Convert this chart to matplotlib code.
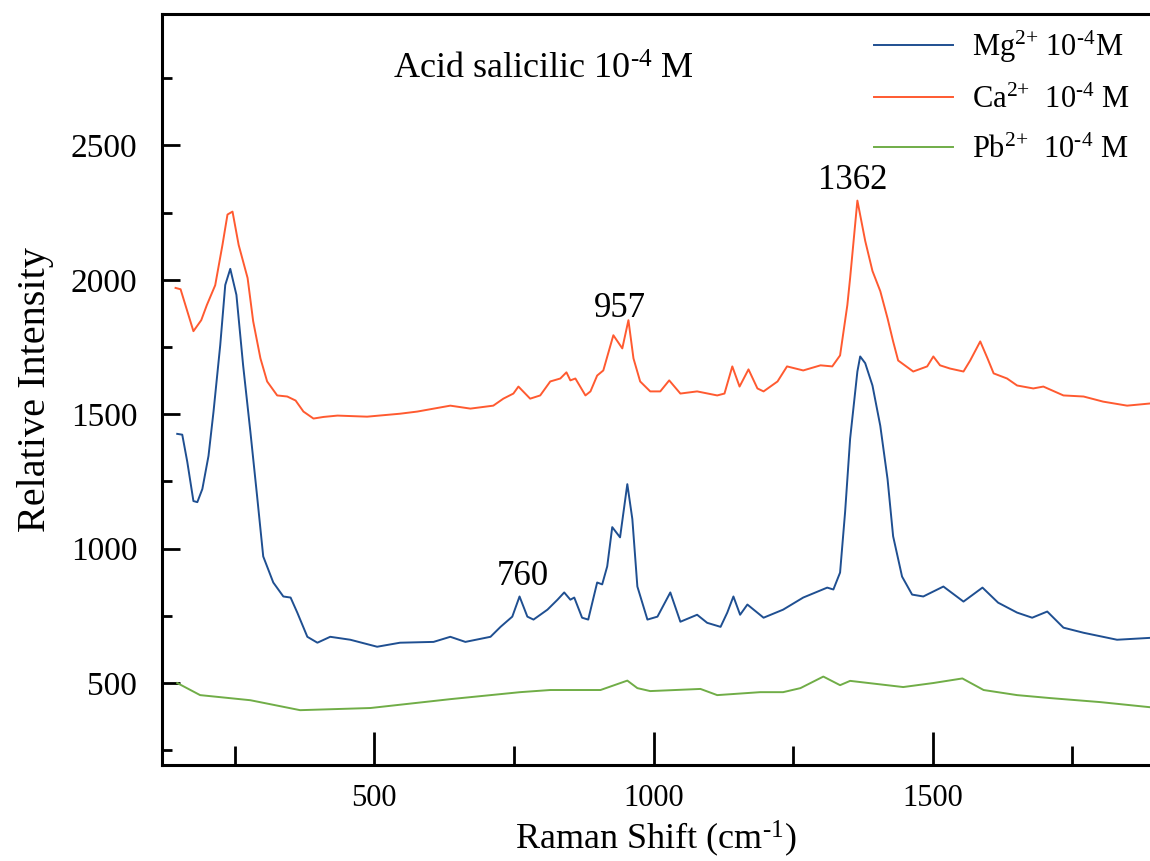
import matplotlib

matplotlib.use("Agg")
import matplotlib.pyplot as plt
from matplotlib.ticker import MultipleLocator

plt.rcParams["font.family"] = ["Liberation Serif", "DejaVu Serif"]
plt.rcParams["mathtext.fontset"] = "custom"
plt.rcParams["mathtext.rm"] = "Liberation Serif"
plt.rcParams["mathtext.it"] = "Liberation Serif:italic"

# Raman spectra, salicylic acid 1e-4 M with different cations
mg_shift = [147, 156, 165, 176, 183, 192, 203, 212, 224, 233, 242, 253, 265, 278, 290, 301,
            319, 337, 350, 362, 380, 398, 421, 457, 505, 546, 606, 636, 663, 708, 726, 747,
            760, 774, 785, 810, 828, 840, 851, 858, 872, 883, 899, 908, 917, 926, 940, 953,
            962, 971, 989, 1007, 1030, 1048, 1078, 1096, 1120, 1132, 1143, 1155, 1168, 1197,
            1232, 1268, 1311, 1322, 1334, 1343, 1352, 1365, 1370, 1379, 1392, 1406, 1419,
            1429, 1445, 1463, 1483, 1519, 1555, 1589, 1617, 1651, 1678, 1705, 1734, 1770,
            1830, 1889]
mg_int = [1427, 1424, 1323, 1177, 1173, 1222, 1345, 1510, 1757, 1981, 2041, 1944, 1682, 1435,
          1196, 971, 874, 822, 818, 762, 672, 650, 672, 661, 635, 650, 653, 672, 653, 672,
          709, 747, 822, 747, 736, 773, 810, 837, 810, 818, 743, 736, 874, 867, 934, 1080,
          1042, 1240, 1110, 859, 736, 747, 837, 728, 754, 724, 709, 762, 822, 754, 792, 743,
          773, 818, 855, 848, 911, 1136, 1409, 1659, 1715, 1690, 1607, 1457, 1259, 1046,
          896, 829, 822, 859, 803, 855, 799, 762, 743, 766, 706, 687, 661, 668]

ca_shift = [144, 153, 176, 190, 200, 215, 228, 237, 246, 257, 273, 283, 296, 308, 326, 344,
            359, 373, 391, 409, 434, 487, 546, 577, 636, 672, 713, 731, 749, 758, 779, 797,
            815, 833, 844, 851, 860, 878, 887, 899, 910, 928, 944, 955, 964, 976, 994, 1012,
            1028, 1048, 1078, 1114, 1127, 1141, 1154, 1170, 1186, 1197, 1222, 1239, 1268,
            1299, 1320, 1334, 1347, 1352, 1365, 1379, 1392, 1406, 1419, 1429, 1438, 1465,
            1490, 1501, 1513, 1531, 1555, 1567, 1585, 1598, 1609, 1633, 1651, 1680, 1698,
            1734, 1770, 1805, 1848, 1889]
ca_int = [1970, 1965, 1809, 1850, 1906, 1980, 2130, 2243, 2254, 2130, 2007, 1846, 1708, 1622,
          1570, 1566, 1551, 1510, 1484, 1490, 1495, 1491, 1502, 1510, 1532, 1521, 1532, 1558,
          1577, 1603, 1558, 1570, 1622, 1633, 1656, 1626, 1633, 1570, 1585, 1644, 1663, 1794,
          1745, 1850, 1708, 1622, 1585, 1585, 1626, 1577, 1585, 1570, 1577, 1678, 1603, 1667,
          1596, 1585, 1622, 1678, 1663, 1682, 1678, 1719, 1906, 2007, 2295, 2145, 2033, 1958,
          1857, 1771, 1700, 1659, 1678, 1715, 1682, 1670, 1659, 1700, 1771, 1708, 1652, 1633,
          1607, 1596, 1603, 1570, 1566, 1547, 1532, 1540]

pb_shift = [147, 188, 278, 367, 493, 636, 761, 815, 905, 953, 971, 994, 1084, 1114, 1191,
            1232, 1263, 1304, 1334, 1352, 1447, 1501, 1553, 1591, 1651, 1710, 1800, 1889]
pb_int = [500, 455, 436, 399, 407, 440, 466, 474, 474, 509, 481, 470, 478, 455, 466, 466, 481,
          524, 492, 508, 485, 500, 517, 474, 455, 444, 429, 410]

labels = [r"Mg$^{2\text{+}}$ 10$^{\text{-4}}$M",
          r"Ca$^{2\text{+}}$  10$^{\text{-4}}$ M",
          r"Pb$^{2\text{+}}$  10$^{\text{-4}}$ M"]
colors = ["#1f4f91", "#ff5a30", "#70ad47"]

# labelled peaks: (shift, intensity of the curve at that peak)
peaks = [(760, 822), (957, 1850), (1362, 2295)]
peak_offsets = [(2, 8), (-7, 2), (-2, 8)]

fig = plt.figure(figsize=(11.5, 8.61), dpi=100)
ax = fig.add_axes([0.141, 0.1115, 0.859, 0.8725])

for xs, ys, lab, col in zip([mg_shift, ca_shift, pb_shift], [mg_int, ca_int, pb_int], labels, colors):
    ax.plot(xs, ys, color=col, lw=1.4, label=lab)

for (px, py), (dx, dy) in zip(peaks, peak_offsets):
    ax.annotate(str(px), xy=(px, py), xytext=(dx, dy), textcoords="offset points",
                ha="center", va="baseline", fontsize=25)

ax.text(534, 2780, r"Acid salicilic 10$^{\text{-4}}$ M", fontsize=26, ha="left", va="center")

ax.set_xlim(120, 1889)
ax.set_ylim(195, 2990)
ax.xaxis.set_major_locator(MultipleLocator(500))
ax.xaxis.set_minor_locator(MultipleLocator(250))
ax.yaxis.set_major_locator(MultipleLocator(500))
ax.yaxis.set_minor_locator(MultipleLocator(250))

ax.spines["right"].set_visible(False)
for side in ["left", "bottom", "top"]:
    ax.spines[side].set_linewidth(2.2)

ax.tick_params(axis="both", which="both", direction="in", width=2.0, top=False, right=False)
ax.tick_params(axis="x", which="major", length=24, labelsize=22, pad=14)
ax.tick_params(axis="x", which="minor", length=14)
ax.tick_params(axis="y", which="major", length=13, labelsize=24, pad=18)
ax.tick_params(axis="y", which="minor", length=7)

ax.set_xlabel(r"Raman Shift (cm$^{\text{-1}}$)", fontsize=26, labelpad=4)
ax.set_ylabel("Relative Intensity", fontsize=29, labelpad=12)

ax.legend(loc="upper right", bbox_to_anchor=(0.998, 1.005), frameon=False, fontsize=22,
          handlelength=2.6, handletextpad=0.6, labelspacing=0.68, borderaxespad=0.2)

fig.savefig("out.png", dpi=100)
